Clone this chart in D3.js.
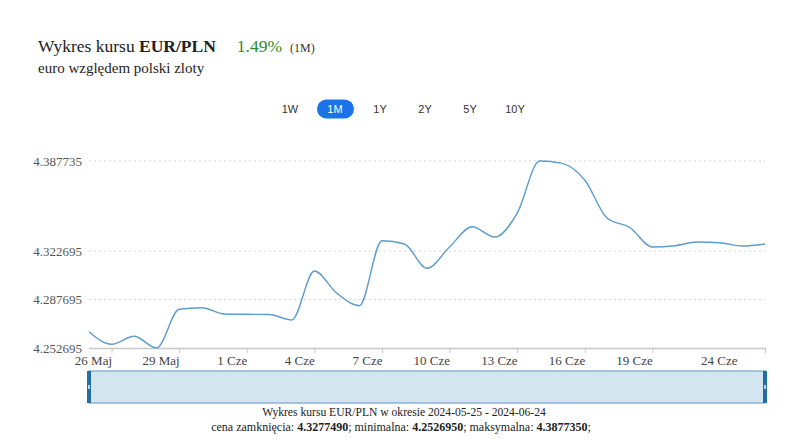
<!DOCTYPE html>
<html>
<head>
<meta charset="utf-8">
<script src="https://cdn.jsdelivr.net/npm/d3@7"></script>
<style>
  body { margin: 0; background: #fff; }
  svg { display: block; }
</style>
</head>
<body>
<svg id="chart" width="800" height="446"></svg>
<script>
// kurs EUR/PLN, dzienne zamkniecia 2024-05-25 .. 2024-06-24
const startDate = "2024-05-25";
const rates = [
  4.26446, 4.25537, 4.26114, 4.252695, 4.28064, 4.28179, 4.27724, 4.27703,
  4.27688, 4.27291, 4.30829, 4.29219, 4.28324, 4.33017, 4.32779, 4.31024,
  4.32562, 4.34028, 4.33284, 4.34995, 4.387735, 4.38605, 4.37400, 4.34634,
  4.33970, 4.32562, 4.32656, 4.32923, 4.32873, 4.32634, 4.327749
];
const yTicks = [4.252695, 4.287695, 4.322695, 4.387735];
const xTickDates = ["2024-05-26", "2024-05-29", "2024-06-01", "2024-06-04", "2024-06-07",
  "2024-06-10", "2024-06-13", "2024-06-16", "2024-06-19", "2024-06-24"];
const monthNames = ["Sty", "Lut", "Mar", "Kwi", "Maj", "Cze", "Lip", "Sie", "Wrz", "Paź", "Lis", "Gru"];
const ranges = ["1W", "1M", "1Y", "2Y", "5Y", "10Y"];
const activeRange = "1M";

const parse = d3.utcParse("%Y-%m-%d");
const t0 = parse(startDate);
const data = rates.map(function(v, i) {
  return { date: d3.utcDay.offset(t0, i), value: v };
});

const serif = "'Liberation Serif', 'Times New Roman', serif";
const svg = d3.select("#chart");

const margin = { left: 89, right: 35, top: 161, bottom: 98 };
const width = 800 - margin.left - margin.right;
const height = 446 - margin.top - margin.bottom;

const x = d3.scaleUtc()
  .domain(d3.extent(data, function(d) { return d.date; }))
  .range([margin.left, margin.left + width]);
const y = d3.scaleLinear()
  .domain([d3.min(yTicks), d3.max(yTicks)])
  .range([margin.top + height, margin.top]);

// naglowek
const title = svg.append("text")
  .attr("x", 38).attr("y", 52)
  .attr("font-family", serif).attr("font-size", 17.5).attr("fill", "#222");
title.append("tspan").text("Wykres kursu ");
title.append("tspan").attr("font-weight", "bold").text("EUR/PLN");
title.append("tspan").attr("dx", 21).attr("fill", "#2e8b2e").text("1.49%");
title.append("tspan").attr("dx", 8).attr("font-size", 12).attr("fill", "#333").text("(1M)");

svg.append("text")
  .attr("x", 38).attr("y", 73)
  .attr("font-family", serif).attr("font-size", 15).attr("fill", "#222")
  .text("euro względem polski zloty");

// przyciski zakresu
const btnX = d3.scalePoint().domain(ranges).range([290, 515]);
const btn = svg.append("g").selectAll("g")
  .data(ranges)
  .enter().append("g")
  .attr("transform", function(d) { return "translate(" + btnX(d) + ",109)"; });
btn.filter(function(d) { return d === activeRange; })
  .append("rect")
  .attr("x", -18).attr("y", -9.5).attr("width", 37).attr("height", 19).attr("rx", 9.5)
  .attr("fill", "#1a73e8");
btn.append("text")
  .attr("text-anchor", "middle").attr("dy", "0.35em")
  .attr("font-family", "'Liberation Sans', Arial, sans-serif").attr("font-size", 11)
  .attr("fill", function(d) { return d === activeRange ? "#fff" : "#333"; })
  .text(function(d) { return d; });

// siatka
svg.append("g")
  .selectAll("line")
  .data(yTicks.slice(1))
  .enter().append("line")
  .attr("x1", margin.left).attr("x2", margin.left + width)
  .attr("y1", function(d) { return y(d); }).attr("y2", function(d) { return y(d); })
  .attr("stroke", "#d4d4d4").attr("stroke-dasharray", "2,3");

// os Y
svg.append("g")
  .selectAll("text")
  .data(yTicks)
  .enter().append("text")
  .attr("x", margin.left - 7)
  .attr("y", function(d) { return y(d); })
  .attr("dy", "0.35em")
  .attr("text-anchor", "end")
  .attr("font-family", serif).attr("font-size", 13).attr("fill", "#555")
  .text(function(d) { return d.toFixed(6); });

// os X - etykiety koncza sie przy kresce
const xAxis = d3.axisBottom(x)
  .tickValues(xTickDates.map(parse))
  .tickSize(5)
  .tickFormat(function(d) { return d.getUTCDate() + " " + monthNames[d.getUTCMonth()]; });
const gx = svg.append("g")
  .attr("transform", "translate(0," + (margin.top + height) + ")")
  .call(xAxis);
gx.select(".domain").attr("stroke", "#c8c8c8").attr("stroke-width", 1.5)
  .attr("d", "M" + margin.left + ",0.5H" + (margin.left + width));
gx.selectAll(".tick line").attr("stroke", "#c8c8c8");
gx.selectAll(".tick text")
  .attr("font-family", serif).attr("font-size", 13).attr("fill", "#444")
  .attr("text-anchor", "end")
  .attr("y", 17).attr("dy", 0);
gx.selectAll(".tick text").filter(function(d, i) { return i === xTickDates.length - 1; })
  .attr("dx", -28);

// linia kursu
const line = d3.line()
  .x(function(d) { return x(d.date); })
  .y(function(d) { return y(d.value); })
  .curve(d3.curveMonotoneX);
svg.append("path")
  .datum(data)
  .attr("fill", "none")
  .attr("stroke", "#5d9ccb")
  .attr("stroke-width", 1.4)
  .attr("d", line);

// nawigator
const nav = svg.append("g").attr("transform", "translate(0,371)");
nav.append("rect")
  .attr("x", margin.left).attr("y", 0).attr("width", width).attr("height", 32)
  .attr("fill", "#d3e5ef").attr("stroke", "#8db4d4").attr("stroke-width", 1.5);
[x.range()[0], x.range()[1]].forEach(function(px) {
  nav.append("rect")
    .attr("x", px - 2).attr("y", 0).attr("width", 4).attr("height", 32)
    .attr("fill", "#1f6ea6");
  nav.append("rect")
    .attr("x", px - 1).attr("y", 14).attr("width", 2).attr("height", 4)
    .attr("fill", "#b8d4ea");
});

// podpis
svg.append("text")
  .attr("x", 404).attr("y", 416)
  .attr("text-anchor", "middle")
  .attr("font-family", serif).attr("font-size", 11.6).attr("fill", "#222")
  .text("Wykres kursu EUR/PLN w okresie 2024-05-25 - 2024-06-24");
const stats = svg.append("text")
  .attr("x", 401).attr("y", 431)
  .attr("text-anchor", "middle")
  .attr("font-family", serif).attr("font-size", 12).attr("fill", "#222");
stats.append("tspan").text("cena zamknięcia: ");
stats.append("tspan").attr("font-weight", "bold").text("4.3277490");
stats.append("tspan").text("; minimalna: ");
stats.append("tspan").attr("font-weight", "bold").text("4.2526950");
stats.append("tspan").text("; maksymalna: ");
stats.append("tspan").attr("font-weight", "bold").text("4.3877350");
stats.append("tspan").text(";");
</script>
</body>
</html>
